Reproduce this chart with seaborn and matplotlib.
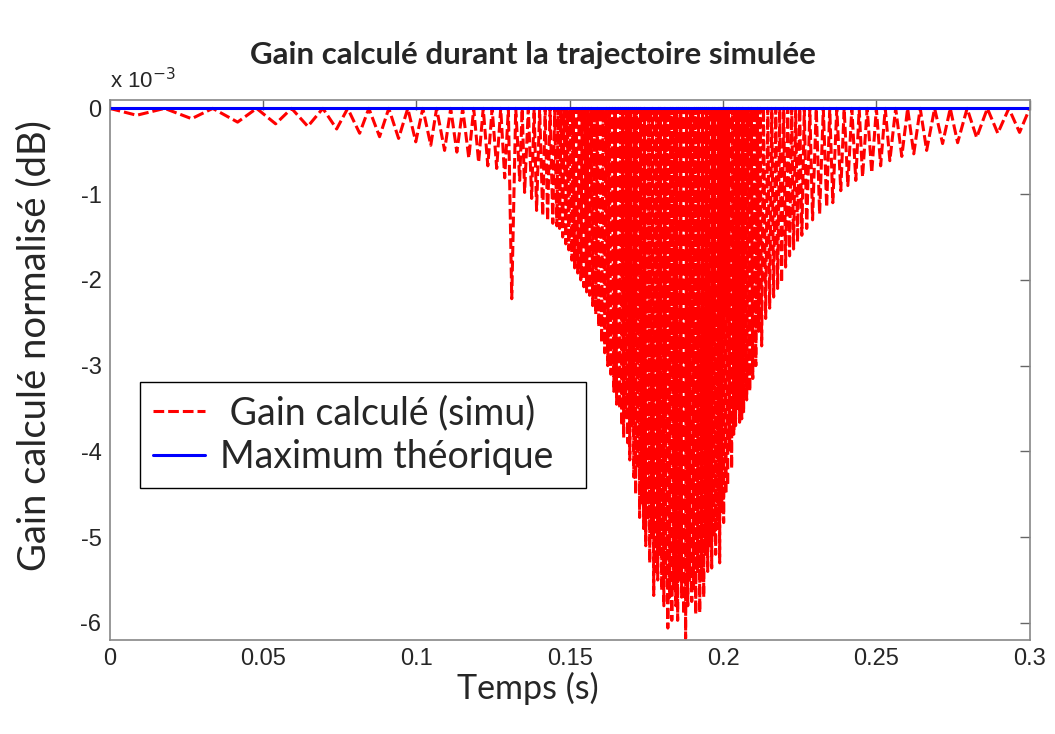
import matplotlib
matplotlib.use("Agg")
import matplotlib.pyplot as plt
import seaborn as sns
import pandas as pd

# =========================
# Données (temps en ms, gain en 1e-3 dB)
# =========================
PEAK_MS = [
    0.0, 17.9, 33.6, 47.9, 59.3, 69.5, 77.6, 84.5, 91.0, 97.2,
    102.1, 106.6, 111.2, 115.1, 118.7, 121.8, 124.7, 127.5, 130.0, 132.4,
    134.5, 136.5, 138.4, 140.2, 142.0, 143.6, 145.1, 146.2, 147.2, 148.2,
    149.2, 150.2, 151.1, 152.1, 153.1, 154.1, 155.0, 156.0, 157.0, 158.0,
    159.0, 159.9, 160.9, 161.9, 162.9, 163.9, 164.8, 165.8, 166.6, 167.3,
    168.0, 168.6, 169.2, 169.9, 170.5, 171.2, 171.8, 172.5, 173.1, 173.8,
    174.4, 175.1, 175.7, 176.4, 177.0, 177.7, 178.3, 179.0, 179.6, 180.3,
    181.0, 181.6, 182.3, 182.9, 183.6, 184.2, 184.9, 185.5, 186.2, 186.8,
    187.5, 188.1, 188.8, 189.4, 190.1, 190.7, 191.4, 192.0, 192.7, 193.3,
    194.0, 194.6, 195.3, 196.0, 196.6, 197.3, 197.9, 198.6, 199.2, 199.9,
    200.5, 201.2, 201.8, 202.5, 203.1, 203.8, 204.4, 205.1,
    205.8, 206.4, 207.2, 208.2, 209.2, 210.2, 211.2, 212.1, 213.2, 214.6,
    215.9, 217.2, 218.5, 219.8, 221.1, 222.4, 223.7, 225.0, 226.5, 228.3,
    230.4, 232.7, 234.8, 237.1, 239.5, 242.0, 244.4, 247.0, 250.0, 252.9,
    256.3, 260.2, 264.3, 269.0, 274.1, 279.6, 286.2, 293.2, 300.0,
]

TROUGH_MS = [
    8.8, 26.7, 41.7, 54.1, 64.6, 74.0, 81.5, 88.0, 94.2, 99.8,
    104.7, 109.2, 113.2, 117.1, 120.3, 123.3, 126.2, 128.8, 131.1, 133.7,
    135.3, 137.6, 139.2, 141.2, 142.8, 144.5, 145.8, 146.7, 147.7, 148.7,
    149.7, 150.7, 151.6, 152.6, 153.6, 154.6, 155.5, 156.5, 157.5, 158.5,
    159.5, 160.4, 161.4, 162.4, 163.4, 164.4, 165.3, 166.3, 167.0, 167.6,
    168.3, 168.9, 169.6, 170.2, 170.9, 171.5, 172.2, 172.8, 173.5, 174.1,
    174.8, 175.4, 176.1, 176.7, 177.4, 178.0, 178.7, 179.3, 180.0, 180.7,
    181.3, 182.0, 182.6, 183.3, 183.9, 184.6, 185.2, 185.9, 186.5, 187.2,
    187.8, 188.5, 189.1, 189.8, 190.4, 191.1, 191.7, 192.4, 193.0, 193.7,
    194.3, 195.0, 195.7, 196.3, 197.0, 197.6, 198.3, 198.9, 199.6, 200.2,
    200.9, 201.5, 202.2, 202.8, 203.5, 204.1, 204.8, 205.4,
    206.1, 206.7, 207.7, 208.7, 209.7, 210.7, 211.6, 212.6, 213.9, 215.2,
    216.5, 217.8, 219.1, 220.4, 221.7, 223.0, 224.3, 225.7, 227.3, 229.2,
    231.5, 233.8, 235.8, 238.4, 240.7, 243.3, 245.5, 248.5, 251.4, 254.4,
    258.3, 262.2, 266.4, 271.6, 276.5, 282.7, 289.6, 296.7,
]

TROUGH_GAIN = [
    -0.08, -0.12, -0.16, -0.18, -0.21, -0.24, -0.29, -0.33, -0.35, -0.39,
    -0.43, -0.49, -0.51, -0.58, -0.63, -0.67, -0.70, -0.81, -2.22, -0.84,
    -0.98, -1.05, -1.19, -1.25, -1.31, -1.34, -1.37, -1.40, -1.50, -1.58,
    -1.65, -1.77, -1.86, -1.92, -2.00, -2.08, -2.14, -2.18, -2.30, -2.40,
    -2.55, -2.73, -2.85, -3.00, -3.10, -3.30, -3.45, -3.50, -3.70, -3.84,
    -3.60, -3.90, -4.10, -3.70, -4.30, -4.50, -4.20, -4.77, -4.60, -4.90,
    -5.10, -4.80, -5.30, -5.00, -5.68, -5.40, -5.50, -5.20, -5.62, -5.80,
    -5.50, -6.06, -5.70, -5.97, -5.60, -5.80, -5.97, -5.50, -5.70, -5.90,
    -6.18, -5.80, -5.50, -5.75, -5.60, -5.90, -5.40, -5.88, -5.50, -5.70,
    -5.20, -5.40, -5.10, -5.36, -5.00, -5.20, -4.90, -5.30, -4.70, -4.83,
    -4.50, -4.40, -4.00, -4.20, -3.80, -3.70, -3.50, -3.66,
    -3.62, -3.55, -3.40, -3.30, -3.15, -3.00, -2.60, -2.77, -2.45, -2.33,
    -2.20, -2.10, -2.03, -1.85, -1.72, -1.64, -1.56, -1.48, -1.40, -1.30,
    -1.23, -1.15, -1.10, -0.96, -0.90, -0.84, -0.80, -0.75, -0.67, -0.61,
    -0.56, -0.53, -0.49, -0.41, -0.40, -0.34, -0.29, -0.28,
]

MAX_T = [0.0, 0.3]
MAX_GAIN = [0.0, 0.0]

X_TICKS = [0, 0.05, 0.1, 0.15, 0.2, 0.25, 0.3]
X_TICK_LABELS = ["0", "0.05", "0.1", "0.15", "0.2", "0.25", "0.3"]
Y_TICKS = [0, -1, -2, -3, -4, -5, -6]
Y_TICK_LABELS = ["0", "-1", "-2", "-3", "-4", "-5", "-6"]


def build_series():
    t, g = [], []
    for i in range(len(TROUGH_MS)):
        t += [PEAK_MS[i] / 1000, TROUGH_MS[i] / 1000]
        g += [0.0, TROUGH_GAIN[i]]
    t.append(PEAK_MS[-1] / 1000)
    g.append(0.0)
    return pd.DataFrame({"temps": t, "gain": g})


# =========================
# Tracé
# =========================
sns.set_style("white")
plt.rcParams["font.family"] = ["Liberation Sans", "DejaVu Sans"]
plt.rcParams["axes.unicode_minus"] = False
LABEL_FONT = ["Lato", "DejaVu Sans"]

df = build_series()

fig = plt.figure(figsize=(10.55, 7.34), dpi=100)
ax = fig.add_axes([0.104, 0.128, 0.872, 0.736])

sns.lineplot(data=df, x="temps", y="gain", ax=ax, sort=False, estimator=None,
             color="red", linewidth=2.2, linestyle=(0, (3.5, 1.3)),
             label=" Gain calculé (simu)  ")
sns.lineplot(x=MAX_T, y=MAX_GAIN, ax=ax, sort=False, estimator=None,
             color="blue", linewidth=2.2, label="Maximum théorique  ")

ax.set_xlim(0, 0.3)
ax.set_ylim(-6.2, 0.1)
ax.set_xticks(X_TICKS, X_TICK_LABELS, fontsize=17)
ax.set_yticks(Y_TICKS, Y_TICK_LABELS, fontsize=17)
ax.tick_params(direction="in", length=7, width=1, color="#666666",
               top=True, right=True, pad=6)
for s in ax.spines.values():
    s.set_color("#888888")
    s.set_linewidth(1.2)

ax.set_xlabel("Temps (s)", fontsize=24.5, family=LABEL_FONT)
ax.xaxis.set_label_coords(0.455, -0.058)
ax.set_ylabel("Gain calculé normalisé (dB)", fontsize=27.5, family=LABEL_FONT)
ax.yaxis.set_label_coords(-0.062, 0.545)
fig.text(0.505, 0.925, "Gain calculé durant la trajectoire simulée", ha="center",
         va="center", fontsize=22.5, fontweight="bold", family=LABEL_FONT)
ax.text(0.0, 1.012, "x 10$^{-3}$", transform=ax.transAxes, fontsize=16,
        ha="left", va="bottom")

leg = ax.legend(loc="lower left", bbox_to_anchor=(0.0326, 0.281), borderaxespad=0,
                fancybox=False, edgecolor="black", framealpha=1,
                prop={"family": LABEL_FONT, "size": 27},
                handlelength=1.4, handletextpad=0.4, borderpad=0.35,
                labelspacing=0.2)
leg.get_frame().set_linewidth(1.0)

fig.savefig("out.png", dpi=100)
